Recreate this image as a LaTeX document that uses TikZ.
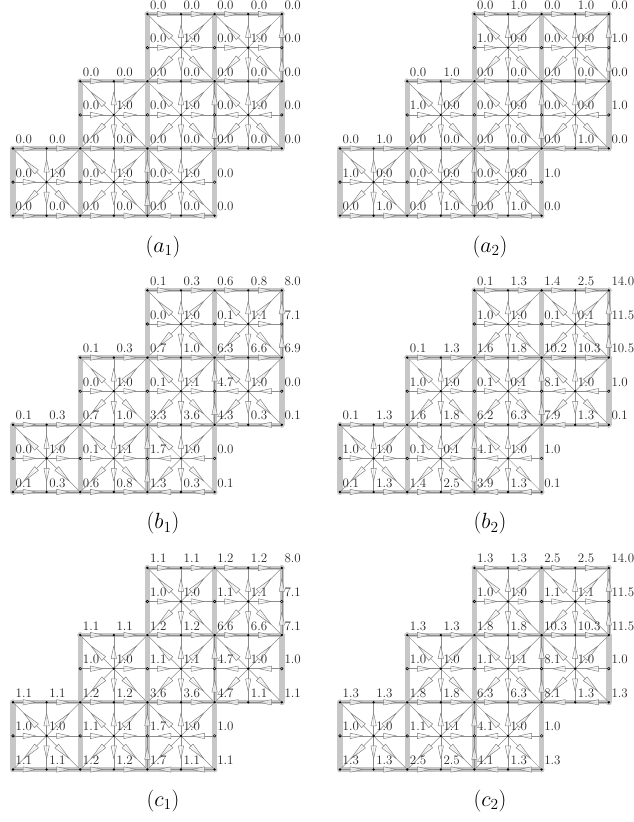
\documentclass[tikz,border=0pt]{standalone}
\usepackage{fix-cm}
\usetikzlibrary{calc}
\definecolor{bandgrey}{gray}{0.78}
\tikzset{
  bandfill/.style={fill=bandgrey,draw=none},
  thinedge/.style={line width=0.5pt,draw=black!45},
  arrowtri/.style={line width=0.5pt,draw=black!50,fill=white,fill opacity=.7,line join=round},
  soliddot/.style={circle,fill=black,inner sep=0pt,minimum size=2.6pt},
  hollowdot/.style={circle,draw=black,fill=white,line width=0.6pt,inner sep=0pt,minimum size=2.5pt},
  vallabel/.style={anchor=base west,inner sep=0pt,font=\fontsize{13}{15}\selectfont,text=black!85},
  captionlabel/.style={inner sep=0pt,font=\fontsize{22}{26}\selectfont}
}
\newcommand\arrowedge[2]{%
  \draw[thinedge] (#1) -- (#2);
  \draw[arrowtri] ($(#1)!.68!(#2)$) -- ($(#1)!.3!(#2)!2.7pt!90:(#2)$) -- ($(#1)!.3!(#2)!2.7pt!-90:(#2)$) -- cycle;
}
% grey band between two named points: half widths #3 (x) and #4 (y), round ends
\newcommand\bandseg[4]{%
  \fill[bandfill] ($(#1)+(-#3,-#4)$) rectangle ($(#2)+(#3,#4)$);
  \fill[bandfill] (#1) circle[radius=2.8];
  \fill[bandfill] (#2) circle[radius=2.8];
}
\newcommand\meshpanel[5]{%
\begin{scope}[shift={(#2,#3)}]
  % grid points
  \foreach \y/\a/\b in {6/4/8,5/4/8,4/2/8,3/2/8,2/0/8,1/0/6,0/0/6}
    \foreach \x in {\a,...,\b}
      \coordinate (#1-\x-\y) at (\x*33.6,\y*33.6);
  % grey bands
  \foreach \y/\a/\b in {6/4/8,4/2/8,2/0/8,0/0/6} {
    \bandseg{#1-\a-\y}{#1-\b-\y}{0}{2.1}
  }
  \foreach \x/\a/\b in {4/0/2,6/2/4,8/4/6} {
    \bandseg{#1-\x-\a}{#1-\x-\b}{2.1}{0}
  }
  \foreach \x/\a/\b in {0/0/2,2/0/4,4/2/6,6/0/2,6/4/6,8/2/4} {
    \bandseg{#1-\x-\a}{#1-\x-\b}{2.7}{0}
  }
  % rightward edges
  \foreach \y/\a/\b in {6/4/7,5/4/7,4/2/7,3/2/5,2/0/5,1/0/3,0/0/3}
    \foreach \x in {\a,...,\b} {
      \pgfmathtruncatemacro\nx{\x+1}
      \arrowedge{#1-\x-\y}{#1-\nx-\y}
    }
  % leftward edges
  \foreach \y/\a/\b in {3/7/8,2/7/8,1/5/6,0/5/6}
    \foreach \x in {\a,...,\b} {
      \pgfmathtruncatemacro\nx{\x-1}
      \arrowedge{#1-\x-\y}{#1-\nx-\y}
    }
  % upward edges on cell sides
  \foreach \x/\a in {4/0,6/2,8/4}
    \foreach \y in {\a} {
      \pgfmathtruncatemacro\ny{\y+1}
      \pgfmathtruncatemacro\nny{\y+2}
      \arrowedge{#1-\x-\y}{#1-\x-\ny}
      \arrowedge{#1-\x-\ny}{#1-\x-\nny}
    }
  % spokes of each cell
  \foreach \cx/\cy in {1/1,3/1,5/1,3/3,5/3,7/3,5/5,7/5} {
    \pgfmathtruncatemacro\lx{\cx-1}
    \pgfmathtruncatemacro\rx{\cx+1}
    \pgfmathtruncatemacro\by{\cy-1}
    \pgfmathtruncatemacro\ty{\cy+1}
    \arrowedge{#1-\cx-\cy}{#1-\cx-\ty}
    \arrowedge{#1-\cx-\cy}{#1-\cx-\by}
    \arrowedge{#1-\cx-\cy}{#1-\lx-\ty}
    \arrowedge{#1-\cx-\cy}{#1-\rx-\ty}
    \arrowedge{#1-\cx-\cy}{#1-\lx-\by}
    \arrowedge{#1-\cx-\cy}{#1-\rx-\by}
  }
  % dots
  \foreach \y/\a/\b in {6/4/8,5/5/7,4/2/8,3/3/7,2/0/8,1/1/5,0/0/6}
    \foreach \x in {\a,...,\b}
      \node[soliddot] (#1-dot-\x-\y) at (#1-\x-\y) {};
  \foreach \x/\y in {4/5,6/5,8/5,2/3,4/3,6/3,8/3,0/1,2/1,4/1,6/1}
    \node[hollowdot] (#1-dot-\x-\y) at (#1-\x-\y) {};
  % value labels
  \foreach \y/\sx/\labs in {#4}
    \foreach \t [count=\x from \sx] in \labs
      \node[vallabel] (#1-lab-\x-\y) at ($(#1-\x-\y)+(2.5,4.9)$) {\t};
  \node[captionlabel] (#1-caption) at (150,-31.5) {$(#5)$};
\end{scope}
}
\begin{document}
\begin{tikzpicture}[x=1pt,y=1pt]
\useasboundingbox (0,0) rectangle (634,822);
\meshpanel{aa}{13}{606.3}{%
 6/4/{0.0,0.0,0.0,0.0,0.0},
 5/4/{0.0,1.0,0.0,1.0,0.0},
 4/2/{0.0,0.0,0.0,0.0,0.0,0.0,0.0},
 3/2/{0.0,1.0,0.0,1.0,0.0,1.0,0.0},
 2/0/{0.0,0.0,0.0,0.0,0.0,0.0,0.0,0.0,0.0},
 1/0/{0.0,1.0,0.0,1.0,0.0,1.0,0.0},
 0/0/{0.0,0.0,0.0,0.0,0.0,0.0,0.0}}{a_1}
\meshpanel{ab}{340}{606.3}{%
 6/4/{0.0,1.0,0.0,1.0,0.0},
 5/4/{1.0,0.0,0.0,0.0,1.0},
 4/2/{0.0,1.0,0.0,0.0,0.0,0.0,0.0},
 3/2/{1.0,0.0,0.0,0.0,0.0,0.0,1.0},
 2/0/{0.0,1.0,0.0,0.0,0.0,0.0,0.0,1.0,0.0},
 1/0/{1.0,0.0,0.0,0.0,0.0,0.0,1.0},
 0/0/{0.0,1.0,0.0,1.0,0.0,1.0,0.0}}{a_2}
\meshpanel{ba}{13}{330}{%
 6/4/{0.1,0.3,0.6,0.8,8.0},
 5/4/{0.0,1.0,0.1,1.1,7.1},
 4/2/{0.1,0.3,0.7,1.0,6.3,6.6,6.9},
 3/2/{0.0,1.0,0.1,1.1,4.7,1.0,0.0},
 2/0/{0.1,0.3,0.7,1.0,3.3,3.6,4.3,0.3,0.1},
 1/0/{0.0,1.0,0.1,1.1,1.7,1.0,0.0},
 0/0/{0.1,0.3,0.6,0.8,1.3,0.3,0.1}}{b_1}
\meshpanel{bb}{340}{330}{%
 6/4/{0.1,1.3,1.4,2.5,14.0},
 5/4/{1.0,1.0,0.1,0.1,11.5},
 4/2/{0.1,1.3,1.6,1.8,10.2,10.3,10.5},
 3/2/{1.0,1.0,0.1,0.1,8.1,1.0,1.0},
 2/0/{0.1,1.3,1.6,1.8,6.2,6.3,7.9,1.3,0.1},
 1/0/{1.0,1.0,0.1,0.1,4.1,1.0,1.0},
 0/0/{0.1,1.3,1.4,2.5,3.9,1.3,0.1}}{b_2}
\meshpanel{ca}{13}{52.5}{%
 6/4/{1.1,1.1,1.2,1.2,8.0},
 5/4/{1.0,1.0,1.1,1.1,7.1},
 4/2/{1.1,1.1,1.2,1.2,6.6,6.6,7.1},
 3/2/{1.0,1.0,1.1,1.1,4.7,1.0,1.0},
 2/0/{1.1,1.1,1.2,1.2,3.6,3.6,4.7,1.1,1.1},
 1/0/{1.0,1.0,1.1,1.1,1.7,1.0,1.0},
 0/0/{1.1,1.1,1.2,1.2,1.7,1.1,1.1}}{c_1}
\meshpanel{cb}{340}{52.5}{%
 6/4/{1.3,1.3,2.5,2.5,14.0},
 5/4/{1.0,1.0,1.1,1.1,11.5},
 4/2/{1.3,1.3,1.8,1.8,10.3,10.3,11.5},
 3/2/{1.0,1.0,1.1,1.1,8.1,1.0,1.0},
 2/0/{1.3,1.3,1.8,1.8,6.3,6.3,8.1,1.3,1.3},
 1/0/{1.0,1.0,1.1,1.1,4.1,1.0,1.0},
 0/0/{1.3,1.3,2.5,2.5,4.1,1.3,1.3}}{c_2}
\end{tikzpicture}
\end{document}
